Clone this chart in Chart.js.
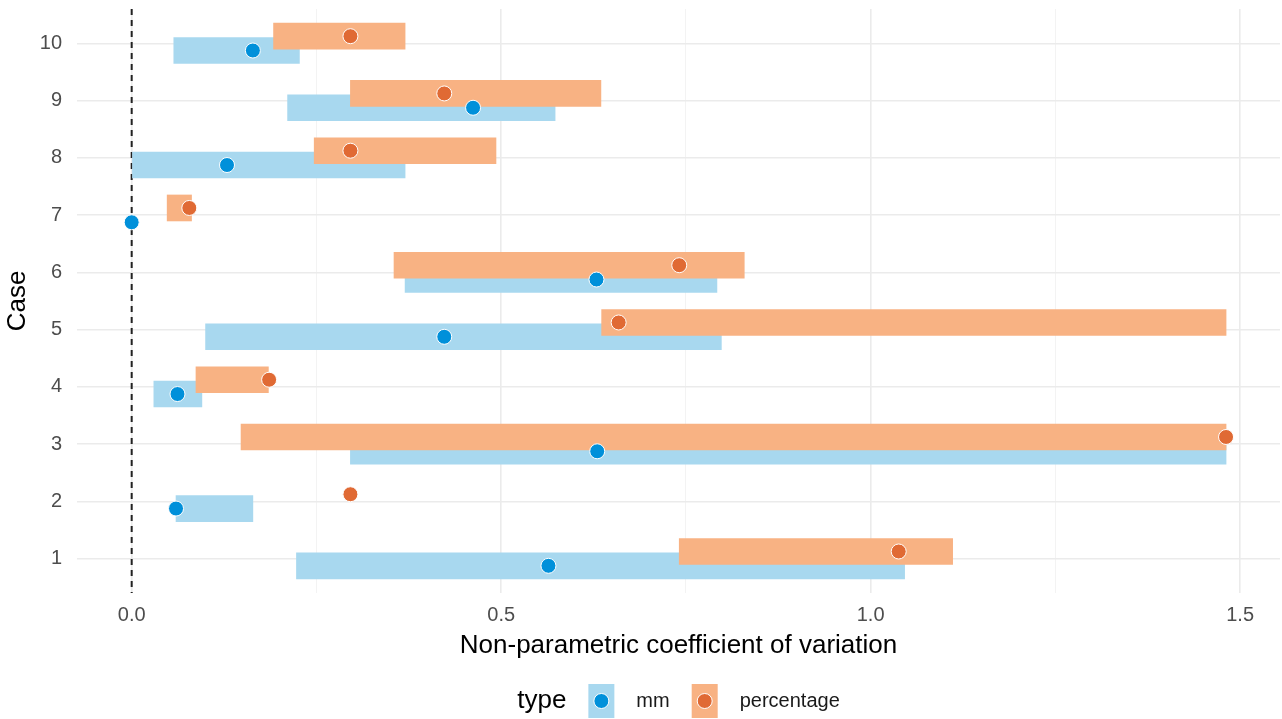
<!DOCTYPE html>
<html>
<head>
<meta charset="utf-8">
<script src="https://cdn.jsdelivr.net/npm/chart.js@4"></script>
<style>
  body { margin: 0; background: #fff; }
  #wrap { width: 1282px; height: 719px; }
</style>
</head>
<body>
<div id="wrap"><canvas id="cv" width="1282" height="719"></canvas></div>
<script>
// values
const cases = [1, 2, 3, 4, 5, 6, 7, 8, 9, 10];
const mmLow    = [0.223, 0.060, 0.296, 0.030, 0.100, 0.370, null,  0.000, 0.211, 0.057];
const mmHigh   = [1.046, 0.164, 1.481, 0.095, 0.798, 0.792, null,  0.370, 0.573, 0.227];
const mmPoint  = [0.564, 0.060, 0.630, 0.062, 0.423, 0.629, 0.000, 0.129, 0.462, 0.164];
const pctLow   = [0.741, null,  0.148, 0.087, 0.636, 0.355, 0.048, 0.247, 0.296, 0.192];
const pctHigh  = [1.111, null,  1.481, 0.185, 1.481, 0.829, 0.081, 0.493, 0.635, 0.370];
const pctPoint = [1.038, 0.296, 1.481, 0.186, 0.659, 0.741, 0.078, 0.296, 0.423, 0.296];
const xMajor = [0, 0.5, 1.0, 1.5];
const xMinor = [0.25, 0.75, 1.25];
const types = ['mm', 'percentage'];

const FONT = "'Liberation Sans', Arial, sans-serif";
const colors = {
    mm: { bar: '#A8D8EF', point: '#0090DA' },
    percentage: { bar: '#F8B283', point: '#E06A34' }
};
const dodge = { mm: -0.125, percentage: 0.125 };

function barData(lo, hi, t) {
    return cases
        .map((c, i) => lo[i] === null ? null : { x: [lo[i], hi[i]], y: c + dodge[t] })
        .filter(d => d !== null);
}
function pointData(vals, t) {
    return cases.map((c, i) => ({ x: vals[i], y: c + dodge[t] }));
}

const zeroLine = {
    id: 'zeroLine',
    beforeDatasetsDraw(chart) {
        const { ctx, chartArea, scales } = chart;
        const px = scales.x.getPixelForValue(0);
        ctx.save();
        ctx.strokeStyle = '#222';
        ctx.lineWidth = 2;
        ctx.setLineDash([6, 5]);
        ctx.beginPath();
        ctx.moveTo(px, chartArea.top);
        ctx.lineTo(px, chartArea.bottom);
        ctx.stroke();
        ctx.restore();
    }
};

const typeLegend = {
    id: 'typeLegend',
    afterDraw(chart) {
        const { ctx, chartArea } = chart;
        const cy = 701, gap = 22, boxW = 26, boxH = 34;
        ctx.save();
        ctx.textBaseline = 'middle';
        ctx.font = '26px ' + FONT;
        const wTitle = ctx.measureText('type').width;
        ctx.font = '20px ' + FONT;
        const wLabels = types.map(t => ctx.measureText(t).width);
        const total = wTitle + types.length * (boxW + 2 * gap) + wLabels.reduce((a, b) => a + b, 0);
        let x = (chartArea.left + chartArea.right) / 2 - total / 2;
        ctx.fillStyle = '#000';
        ctx.font = '26px ' + FONT;
        ctx.fillText('type', x, cy);
        x += wTitle + gap;
        types.forEach((t, i) => {
            ctx.fillStyle = colors[t].bar;
            ctx.fillRect(x, cy - boxH / 2, boxW, boxH);
            ctx.beginPath();
            ctx.arc(x + boxW / 2, cy, 7.5, 0, Math.PI * 2);
            ctx.fillStyle = colors[t].point;
            ctx.fill();
            ctx.strokeStyle = '#fff';
            ctx.lineWidth = 1;
            ctx.stroke();
            x += boxW + gap;
            ctx.fillStyle = '#1a1a1a';
            ctx.font = '20px ' + FONT;
            ctx.fillText(t, x, cy);
            x += wLabels[i] + gap;
        });
        ctx.restore();
    }
};

new Chart(document.getElementById('cv'), {
    type: 'bar',
    data: {
        datasets: [
            { type: 'scatter', label: 'percentage pt', data: pointData(pctPoint, 'percentage'), order: 0,
              backgroundColor: colors.percentage.point, borderColor: '#fff', borderWidth: 1, pointRadius: 7.5 },
            { type: 'scatter', label: 'mm pt', data: pointData(mmPoint, 'mm'), order: 0,
              backgroundColor: colors.mm.point, borderColor: '#fff', borderWidth: 1, pointRadius: 7.5 },
            { label: 'percentage', data: barData(pctLow, pctHigh, 'percentage'), order: 1, indexAxis: 'y',
              backgroundColor: colors.percentage.bar, barThickness: 26, grouped: false },
            { label: 'mm', data: barData(mmLow, mmHigh, 'mm'), order: 2, indexAxis: 'y',
              backgroundColor: colors.mm.bar, barThickness: 26, grouped: false }
        ]
    },
    options: {
        indexAxis: 'y',
        responsive: false,
        devicePixelRatio: 1,
        animation: false,
        layout: { autoPadding: false, padding: { top: 9, right: 2, bottom: 58, left: 0 } },
        plugins: { legend: { display: false }, tooltip: { enabled: false } },
        scales: {
            x: {
                type: 'linear',
                min: -0.074,
                max: 1.554,
                afterBuildTicks: s => { s.ticks = xMajor.concat(xMinor).sort((a, b) => a - b).map(v => ({ value: v })); },
                afterFit: s => { s.height = 68; },
                ticks: {
                    autoSkip: false,
                    maxRotation: 0,
                    padding: 10,
                    color: '#4D4D4D',
                    font: { family: FONT, size: 20 },
                    callback: v => xMajor.includes(v) ? v.toFixed(1) : ''
                },
                grid: {
                    drawTicks: false,
                    color: c => xMajor.includes(c.tick.value) ? '#EBEBEB' : '#F3F3F3',
                    lineWidth: c => xMajor.includes(c.tick.value) ? 1.6 : 1
                },
                border: { display: false },
                title: {
                    display: true,
                    text: 'Non-parametric coefficient of variation',
                    color: '#000',
                    font: { family: FONT, size: 26 },
                    padding: { top: 0, bottom: 0 }
                }
            },
            y: {
                type: 'linear',
                offset: false,
                min: 0.4,
                max: 10.6,
                afterBuildTicks: s => { s.ticks = cases.map(v => ({ value: v })); },
                afterFit: s => { s.width = 77; s.paddingTop = 0; s.paddingBottom = 0; },
                ticks: {
                    padding: 15,
                    color: '#4D4D4D',
                    font: { family: FONT, size: 20 },
                    callback: v => String(v)
                },
                grid: { offset: false, drawTicks: false, color: '#EBEBEB', lineWidth: 1.6 },
                border: { display: false },
                title: {
                    display: true,
                    text: 'Case',
                    color: '#000',
                    font: { family: FONT, size: 26 },
                    padding: { top: 2, bottom: 0 }
                }
            }
        }
    },
    plugins: [zeroLine, typeLegend]
});
</script>
</body>
</html>
